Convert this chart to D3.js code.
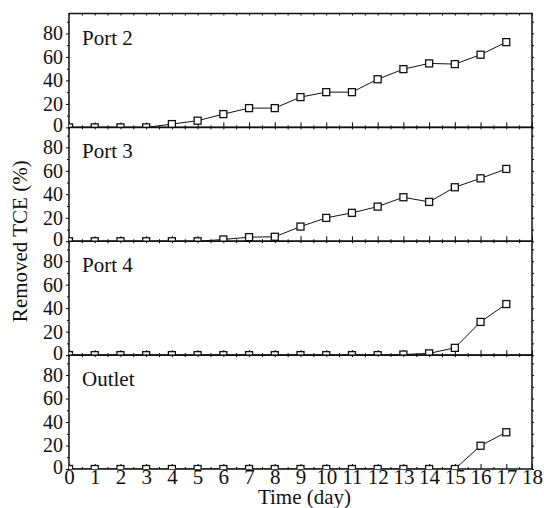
<!DOCTYPE html>
<html>
<head>
	<meta charset="utf-8">
	<title>Removed TCE</title>
	<script src="https://cdn.jsdelivr.net/npm/d3@7"></script>
	<style>
		body { margin: 0; background: #fff; }
	</style>
</head>
<body>
	<div id="chart"></div>
	<script>

	// data
	const days    = [0, 1, 2, 3, 4, 5, 6, 7, 8, 9, 10, 11, 12, 13, 14, 15, 16, 17];
	const port2   = [0, 0, 0, 0, 2.8, 5.7, 11.3, 16.4, 16.4, 25.8, 30, 30, 41, 49.6, 54.5, 53.9, 61.9, 72.6];
	const port3   = [0, 0, 0, 0, 0, 0, 1.5, 3.5, 3.8, 12.5, 19.9, 24.2, 29.5, 37.5, 33.5, 46, 53.6, 61.6];
	const port4   = [0, 0, 0, 0, 0, 0, 0, 0, 0, 0, 0, 0, 0, 0.5, 1.5, 6.2, 28.3, 43.5];
	const outlet  = [0, 0, 0, 0, 0, 0, 0, 0, 0, 0, 0, 0, 0, 0, 0, 0, 19.8, 31.3];
	const panelNames = ["Port 2", "Port 3", "Port 4", "Outlet"];
	const xTicks  = d3.range(0, 19);
	const yTicks  = [0, 20, 40, 60, 80];
	const yMinor  = [10, 30, 50, 70, 90];
	const xLabel  = "Time (day)";
	const yLabel  = "Removed TCE (%)";

	const series = [port2, port3, port4, outlet];

	// layout
	const width = 544, height = 508;
	const marginLeft = 69, marginRight = 532, marginTop = 13.5, marginBottom = 469;
	const panelH = (marginBottom - marginTop) / series.length;
	const fontSize = 21;
	const yTickFont = 20;
	const fontFamily = "'Liberation Serif', 'Times New Roman', Times, 'DejaVu Serif', serif";
	const ink = "#111";

	const svg = d3.select("#chart").append("svg")
		.attr("width", width)
		.attr("height", height)
		.attr("font-family", fontFamily);

	const x = d3.scaleLinear().domain([0, 18]).range([marginLeft, marginRight]);
	const xMinor = d3.range(0.5, 18, 1);

	// d3 axes set their own font-family, put ours back on the texts
	const styleText = (size) => a => a.selectAll("text")
		.attr("font-family", fontFamily)
		.attr("font-size", size)
		.attr("fill", ink);

	series.forEach((vals, i) => {
		const y0 = marginTop + i * panelH;
		const y = d3.scaleLinear().domain([0, 97]).range([y0 + panelH, y0]);
		const g = svg.append("g");

		g.append("clipPath").attr("id", "clip" + i)
			.append("rect")
			.attr("x", marginLeft).attr("y", y0)
			.attr("width", marginRight - marginLeft).attr("height", panelH);

		// left axis, ticks outward; the 0 label sits a little above its tick
		g.append("g")
			.attr("transform", `translate(${marginLeft},0)`)
			.call(d3.axisLeft(y).tickValues(yTicks).tickSize(3).tickPadding(3))
			.call(a => a.select(".domain").remove())
			.call(styleText(yTickFont))
			.call(a => a.selectAll("text").attr("dy", d => d === 0 ? "0.2em" : "0.32em"));
		g.append("g")
			.attr("transform", `translate(${marginLeft},0)`)
			.call(d3.axisLeft(y).tickValues(yMinor).tickSize(2).tickFormat(""))
			.call(a => a.select(".domain").remove());

		// right axis
		g.append("g")
			.attr("transform", `translate(${marginRight},0)`)
			.call(d3.axisRight(y).tickValues(yTicks.concat(yMinor)).tickSize(2).tickFormat(""))
			.call(a => a.select(".domain").remove());

		// bottom ticks pointing inward
		g.append("g")
			.attr("transform", `translate(0,${y0 + panelH})`)
			.call(d3.axisTop(x).tickValues(xTicks).tickSize(5).tickFormat(""))
			.call(a => a.select(".domain").remove());
		g.append("g")
			.attr("transform", `translate(0,${y0 + panelH})`)
			.call(d3.axisTop(x).tickValues(xMinor).tickSize(2).tickFormat(""))
			.call(a => a.select(".domain").remove());

		// top ticks pointing inward
		g.append("g")
			.attr("transform", `translate(0,${y0})`)
			.call(d3.axisBottom(x).tickValues(xTicks.concat(xMinor)).tickSize(2).tickFormat(""))
			.call(a => a.select(".domain").remove());

		// frame
		g.append("rect")
			.attr("x", marginLeft).attr("y", y0)
			.attr("width", marginRight - marginLeft).attr("height", panelH)
			.attr("fill", "none")
			.attr("stroke", ink)
			.attr("stroke-width", 1.5);

		const plot = g.append("g").attr("clip-path", `url(#clip${i})`);

		plot.append("path")
			.datum(days)
			.attr("fill", "none")
			.attr("stroke", ink)
			.attr("stroke-width", 1)
			.attr("d", d3.line().x(d => x(d)).y((d, j) => y(vals[j])));

		plot.selectAll("rect.pt")
			.data(days)
			.join("rect")
			.attr("class", "pt")
			.attr("x", d => x(d) - 3.5)
			.attr("y", (d, j) => y(vals[j]) - 3.5)
			.attr("width", 7)
			.attr("height", 7)
			.attr("fill", "#fff")
			.attr("stroke", ink)
			.attr("stroke-width", 1.3);

		g.append("text")
			.attr("x", marginLeft + 13)
			.attr("y", y0 + 31)
			.attr("font-size", fontSize)
			.attr("fill", ink)
			.text(panelNames[i]);
	});

	// x tick labels under the last panel
	svg.append("g")
		.attr("transform", `translate(0,${marginBottom})`)
		.call(d3.axisBottom(x).tickValues(xTicks).tickSize(0).tickPadding(0))
		.call(a => a.select(".domain").remove())
		.call(styleText(fontSize));

	svg.append("text")
		.attr("x", x(9) + 4)
		.attr("y", 504)
		.attr("text-anchor", "middle")
		.attr("font-size", fontSize)
		.attr("fill", ink)
		.text(xLabel);

	svg.append("text")
		.attr("transform", `translate(27,${(marginTop + marginBottom) / 2}) rotate(-90)`)
		.attr("text-anchor", "middle")
		.attr("font-size", fontSize)
		.attr("fill", ink)
		.text(yLabel);

	</script>
</body>
</html>
